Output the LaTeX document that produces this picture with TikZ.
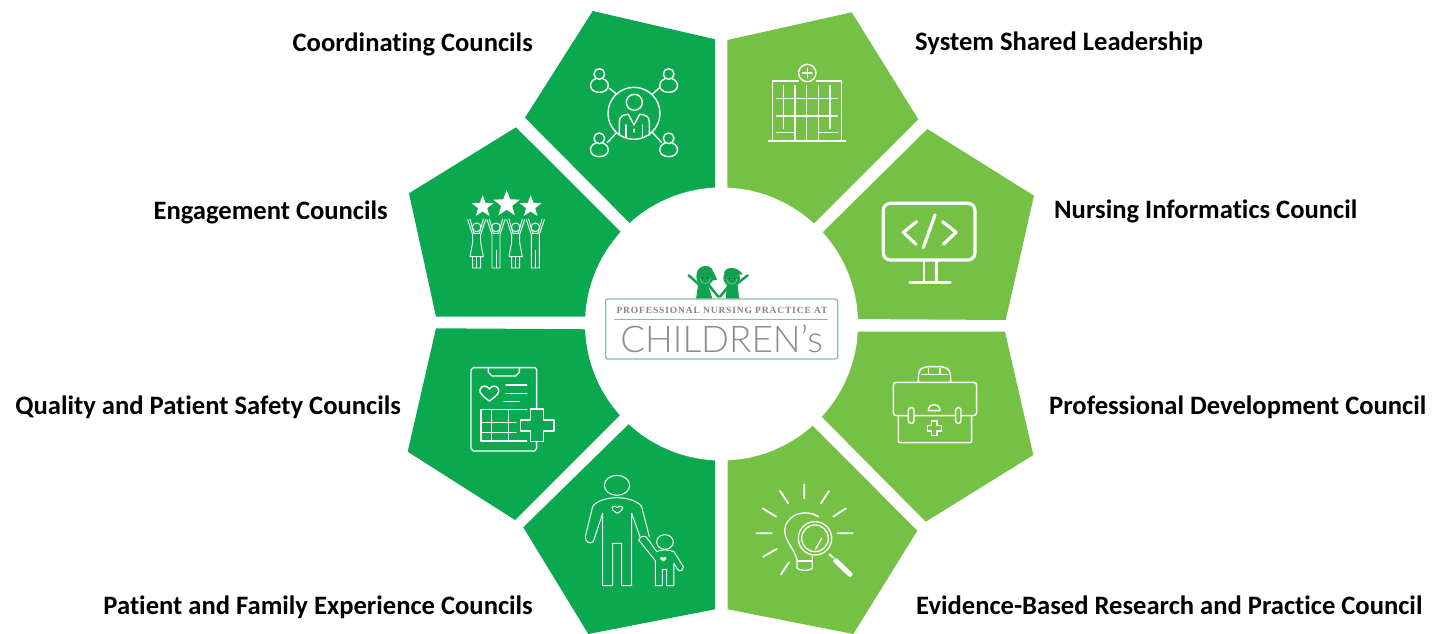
\documentclass[tikz,border=0pt]{standalone}
\usepackage{fontspec}
\usetikzlibrary{shapes.geometric}
\setmainfont[Ligatures={NoCommon}]{Carlito}
\newfontfamily\logoserif[LetterSpace=9]{Liberation Serif}
\newfontfamily\logolight{Lato Light}
\definecolor{darkgrn}{HTML}{0AA84F}
\definecolor{lightgrn}{HTML}{74C145}
\definecolor{logoedge}{HTML}{86BFA0}
\definecolor{kidgrn}{HTML}{12A150}
\tikzset{
  petalA/.style={fill=darkgrn,draw=none},
  petalB/.style={fill=lightgrn,draw=none},
  lbl/.style={anchor=base west,inner sep=0,font=\fontsize{26.6}{28}\selectfont\bfseries,text=black},
  lblr/.style={anchor=base east,inner sep=0,font=\fontsize{26.6}{28}\selectfont\bfseries,text=black},
  ico/.style={draw=white,line width=1.4pt,line cap=round,line join=round},
  zm/.style={x=.3333pt,y=-.3333pt},
  netperson/.pic={
    \draw[ico] (0,0) circle (16*.3333pt);
    \draw[ico] (-10,14) .. controls (-35,22) and (-32,55) .. (0,55) .. controls (32,55) and (35,22) .. (10,14);
  },
  dresser/.pic={
    \draw[ico,line width=.9pt] (0,0) circle (13*.3333pt);
    \draw[ico,line width=.9pt] (-27,-23) -- (-12,22) -- (-12,45) -- (-20,88) -- (-12,88) -- (-12,122) -- (12,122) -- (12,88) -- (20,88) -- (12,45) -- (12,22) -- (27,-23);
    \draw[ico,line width=.9pt] (20,-25) -- (8,18) -- (-8,18) -- (-20,-25);
    \draw[ico,line width=.9pt] (-20,88) -- (20,88) (0,88) -- (0,122);
  },
  panter/.pic={
    \draw[ico,line width=.9pt] (0,0) circle (13*.3333pt);
    \draw[ico,line width=.9pt] (-27,-23) -- (-12,22) -- (-12,122) -- (12,122) -- (12,22) -- (27,-23);
    \draw[ico,line width=.9pt] (20,-25) -- (8,18) -- (-8,18) -- (-20,-25);
    \draw[ico,line width=.9pt] (0,70) -- (0,122);
  }
}
\begin{document}
\begin{tikzpicture}[x=1pt,y=-1pt]
\useasboundingbox (0,0) rectangle (1446,634);
% petals
\fill[petalA] (592.7,11) -- (715,39.3) -- (715,195) -- (632.3,225.7) -- (525,117.7) -- cycle;
\fill[petalA] (516,127.3) -- (623.7,234.7) -- (590,316.7) -- (436,316.7) -- (409,193.3) -- cycle;
\fill[petalA] (436,328.3) -- (590,329.3) -- (623,412) -- (515,520) -- (407.7,451.7) -- cycle;
\fill[petalA] (631.7,421.3) -- (715,455) -- (715,609.3) -- (588.3,634) -- (523.3,527.3) -- cycle;
\fill[petalB] (727.3,40) -- (851.7,12.3) -- (918.3,119.3) -- (811,226.3) -- (727.3,195) -- cycle;
\fill[petalB] (927.3,129) -- (1034,195.7) -- (1005.7,320) -- (852,319) -- (819.7,235.3) -- cycle;
\fill[petalB] (852,331.7) -- (1005,331.7) -- (1033.3,455) -- (925.7,521.7) -- (818.7,413.7) -- cycle;
\fill[petalB] (727.7,455) -- (809.7,422.7) -- (917.3,530.7) -- (853.3,634) -- (727.7,609.3) -- cycle;
\node[circle,fill=white,draw=none,minimum size=273pt,inner sep=0] (hub) at (721.5,324) {};
% labels
\node[lblr] (t1) at (533,52) {Coordinating Councils};
\node[lblr] (t2) at (388,219.5) {Engagement Councils};
\node[lblr] (t3) at (401,414) {Quality and Patient Safety Councils};
\node[lblr] (t4) at (533,614) {Patient and Family Experience Councils};
\node[lbl] (t5) at (915,51) {System Shared Leadership};
\node[lbl] (t6) at (1054,218.5) {Nursing Informatics Council};
\node[lbl] (t7) at (1049,414) {Professional Development Council};
\node[lbl] (t8) at (916,614) {Evidence-Based Research and Practice Council};
% icon network
\begin{scope}[shift={(520,0)},zm]
\draw[ico] (342,340) circle (78*.3333pt);
\draw[ico] (343,307) circle (24*.3333pt);
\draw[ico] (298,405) -- (298,365) .. controls (298,350) and (310,343) .. (325,343) -- (342,375) -- (359,343) .. controls (375,343) and (388,350) .. (388,365) -- (388,405);
\draw[ico] (318,375) -- (318,412) (367,375) -- (367,412) (342,388) -- (342,396);
\draw[ico] (268,265) -- (290,282) (420,262) -- (398,282) (262,428) -- (290,398) (425,428) -- (398,398);
\pic at (238,222) {netperson};
\pic at (446,222) {netperson};
\pic at (238,415) {netperson};
\pic at (446,415) {netperson};
\end{scope}
% icon hospital
\begin{scope}[shift={(520,0)},zm]
\draw[ico] (862,219) circle (26*.3333pt);
\draw[ico] (848,219) -- (876,219) (862,205) -- (862,233);
\draw[ico] (835,243) -- (757,243) -- (757,420) (889,243) -- (965,243) -- (965,420);
\draw[ico] (745,423) -- (977,423);
\draw[ico] (790,257) -- (790,385) (825,257) -- (825,420) (860,257) -- (860,420) (895,257) -- (895,420) (930,257) -- (930,385);
\draw[ico] (770,295) -- (952,295) (770,348) -- (952,348);
\draw[ico] (770,398) -- (825,398) (895,398) -- (952,398);
\end{scope}
% icon stars and people
\begin{scope}[shift={(400,120)},zm]
\node[star,star points=5,star point ratio=2.4,fill=white,minimum size=23pt,inner sep=0] (s1) at (248,260) {};
\node[star,star points=5,star point ratio=2.4,fill=white,minimum size=28pt,inner sep=0] (s2) at (320,252) {};
\node[star,star points=5,star point ratio=2.4,fill=white,minimum size=23pt,inner sep=0] (s3) at (392,260) {};
\pic at (230,322) {dresser};
\pic at (288,322) {panter};
\pic at (347,322) {dresser};
\pic at (406,322) {panter};
\end{scope}
% icon clipboard
\begin{scope}[shift={(400,325)},zm]
\draw[ico] (410,250) -- (410,135) -- (406,128) -- (220,128) -- (213,135) -- (213,370) -- (220,378) -- (404,378) -- (410,370) -- (410,345);
\draw[ico] (265,128) -- (265,142) -- (276,153) -- (347,153) -- (358,142) -- (358,128);
\draw[ico] (268,228) .. controls (245,212) and (238,203) .. (240,194) .. controls (243,180) and (262,180) .. (268,192) .. controls (274,180) and (293,180) .. (296,194) .. controls (298,203) and (291,212) .. (268,228) -- cycle;
\draw[ico] (318,180) -- (380,180) (318,205) -- (380,205) (312,230) -- (358,230);
\draw[ico] (380,253) -- (243,253) -- (243,348) -- (380,348);
\draw[ico] (243,292) -- (348,292) (243,322) -- (348,322) (275,253) -- (275,348) (325,253) -- (325,348);
\draw[ico,fill=darkgrn] (392,252) -- (430,252) -- (430,285) -- (462,285) -- (462,318) -- (430,318) -- (430,350) -- (392,350) -- (392,318) -- (362,318) -- (362,285) -- (392,285) -- cycle;
\end{scope}
% icon adult and child
\begin{scope}[shift={(400,325)},zm]
\draw[ico,line width=1pt] (651,481) ellipse (38*.3333pt and 30*.3333pt);
\draw[ico,line width=1pt] (608,565) -- (608,782) -- (638,782) -- (638,655) -- (665,655) -- (665,782) -- (695,782) -- (695,565) -- (720,635);
\draw[ico,line width=1pt] (608,565) -- (580,650) .. controls (570,660) and (555,650) .. (556,635) -- (578,545) .. controls (585,530) and (620,518) .. (651,518) .. controls (685,518) and (715,530) .. (725,545) -- (748,635);
\draw[ico,line width=1pt] (652,565) .. controls (640,558) and (634,552) .. (636,547) .. controls (640,541) and (648,543) .. (652,548) .. controls (656,543) and (664,541) .. (668,547) .. controls (670,552) and (664,558) .. (652,565) -- cycle;
\draw[ico,line width=1pt] (795,651) ellipse (25*.3333pt and 22*.3333pt);
\draw[ico,line width=1pt] (716,645) .. controls (720,632) and (738,630) .. (742,640) -- (770,680) .. controls (785,673) and (805,673) .. (822,680) -- (850,725) .. controls (850,738) and (838,742) .. (832,732) -- (822,715) -- (822,782) -- (800,782) -- (800,733) -- (787,733) -- (787,782) -- (766,782) -- (766,707) -- (716,645) -- cycle;
\fill[white] (790,710) -- (780,701) .. controls (780,694) and (788,694) .. (790,698) .. controls (792,694) and (800,694) .. (800,701) -- cycle;
\end{scope}
% icon monitor
\begin{scope}[shift={(820,125)},zm]
\draw[ico,line width=3.2pt,rounded corners=7pt] (190,235) rectangle (465,405);
\draw[ico,line width=3.2pt] (290,290) -- (250,322) -- (288,358);
\draw[ico,line width=3.2pt] (345,270) -- (310,368);
\draw[ico,line width=3.2pt] (368,290) -- (408,322) -- (370,358);
\draw[ico,line width=2.6pt] (312,405) -- (312,472) (350,405) -- (350,472);
\draw[ico,line width=3.2pt] (270,473) -- (390,473);
\end{scope}
% icon briefcase
\begin{scope}[shift={(725,325)},zm]
\draw[ico,rounded corners=5pt] (580,172) -- (580,140) -- (595,125) -- (662,125) -- (677,140) -- (677,172);
\draw[ico] (590,148) -- (667,148) (610,130) -- (610,145) (645,130) -- (645,145);
\draw[ico,rounded corners=3pt] (505,172) rectangle (755,272);
\draw[ico,rounded corners=2pt] (520,272) -- (520,353) -- (740,353) -- (740,272);
\draw[ico,fill=lightgrn,rounded corners=2.5pt] (550,248) rectangle (567,295);
\draw[ico,fill=lightgrn,rounded corners=2.5pt] (692,248) rectangle (708,295);
\draw[ico] (610,257) .. controls (610,232) and (645,232) .. (645,257) -- cycle;
\draw[ico] (620,288) -- (636,288) -- (636,302) -- (650,302) -- (650,318) -- (636,318) -- (636,332) -- (620,332) -- (620,318) -- (608,318) -- (608,302) -- (620,302) -- cycle;
\end{scope}
% icon bulb
\begin{scope}[shift={(725,325)},zm]
\draw[ico,line width=1.8pt] (238,478) -- (238,520) (165,498) -- (190,535) (113,550) -- (153,575) (95,625) -- (140,625) (115,695) -- (155,672) (168,748) -- (192,712) (312,498) -- (288,535) (363,550) -- (325,575) (383,625) -- (338,625);
\draw[ico,line width=1.3pt] (280,575) .. controls (250,555) and (200,560) .. (182,600) .. controls (168,640) and (210,670) .. (216,705) -- (216,730) .. controls (225,738) and (255,738) .. (262,730) -- (262,692);
\draw[ico,line width=1.3pt] (216,708) -- (262,708);
\draw[ico,line width=1.3pt] (270,640) circle (50*.3333pt);
\draw[ico,line width=1.3pt] (270,640) circle (40*.3333pt);
\draw[ico,line width=1.3pt] (290,640) -- (272,672);
\draw[ico,line width=1.8pt] (313,688) -- (325,698);
\draw[ico,line width=5pt,line cap=round] (332,707) -- (375,748);
\end{scope}
% logo
\begin{scope}[shift={(590,250)},zm]
\fill[kidgrn] (318,148) -- (325,100) -- (352,100) -- (368,148) -- cycle;
\fill[kidgrn] (408,148) -- (410,100) -- (442,100) -- (448,148) -- cycle;
\draw[kidgrn,line width=2.5pt,line cap=round] (332,108) -- (296,76) (356,105) -- (385,140) (436,105) -- (473,76) (415,110) -- (390,140);
\fill[kidgrn] (345,80) circle (26*.3333pt);
\fill[kidgrn] (320,76) .. controls (318,50) and (350,40) .. (365,55) -- (382,90) -- (360,92) -- cycle;
\fill[kidgrn] (425,84) circle (25*.3333pt);
\fill[kidgrn] (402,70) .. controls (405,48) and (445,48) .. (458,74) -- cycle;
\draw[white!55!kidgrn,line width=.5pt] (330,84) .. controls (333,106) and (358,106) .. (361,84);
\draw[white!55!kidgrn,line width=.5pt] (410,86) .. controls (413,108) and (438,108) .. (441,86);
\fill[black!70!kidgrn] (338,84) circle (.6pt) (353,84) circle (.6pt) (418,86) circle (.6pt) (433,86) circle (.6pt);
\node[draw=logoedge,line width=1.3pt,rounded corners=2pt,fill=white,minimum width=232pt,minimum height=60pt,inner sep=0] (logobox) at (395,237) {};
\draw[logoedge,line width=.8pt] (72,208) -- (715,208);
\node[inner sep=0,anchor=base,text=black!48,font=\logoserif\bfseries\fontsize{9.5}{10}\selectfont] (logotop) at (396,192) {PROFESSIONAL NURSING PRACTICE AT};
\node[inner sep=0,anchor=base,text=black!45,font=\logolight\fontsize{36.8}{38}\selectfont] (logomain) at (395,308) {CHILDREN’s};
\end{scope}
\end{tikzpicture}
\end{document}
